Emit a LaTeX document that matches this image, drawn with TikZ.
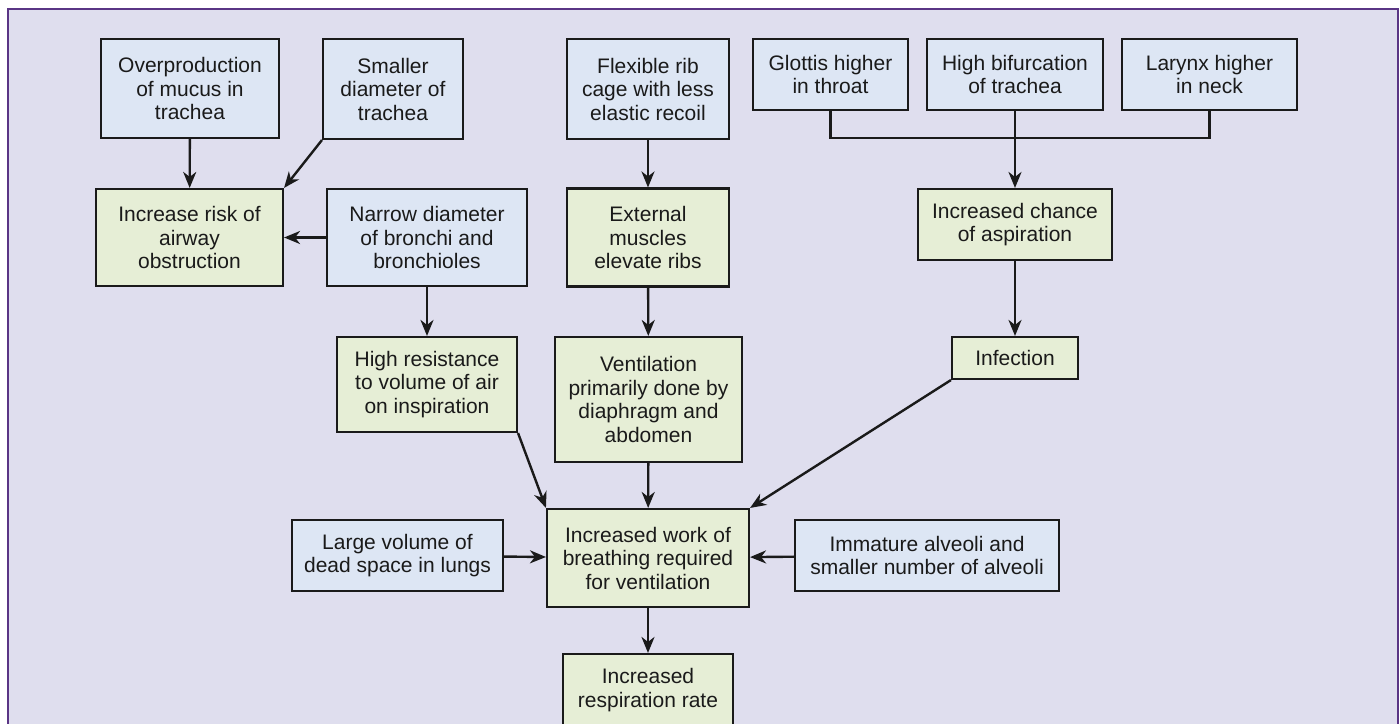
\documentclass[tikz,border=0pt]{standalone}
\usepackage{fontspec}
\setmainfont{Liberation Sans}
\usetikzlibrary{arrows.meta}
\definecolor{bgpanel}{HTML}{DFDEEE}
\definecolor{framepurple}{HTML}{5A3585}
\definecolor{causefill}{HTML}{DDE6F4}
\definecolor{effectfill}{HTML}{E6EED6}
\definecolor{ink}{HTML}{1A1A1A}
\begin{document}
\begin{tikzpicture}[x=1pt,y=-1pt,
  box/.style={draw=ink,line width=2.1pt,align=center,inner sep=0pt,
    font=\fontsize{21}{23.5}\selectfont,text=ink},
  cause/.style={box,fill=causefill},
  effect/.style={box,fill=effectfill},
  link/.style={draw=ink,line width=2.4pt,-{Stealth[length=16pt,width=13pt,inset=5pt]}},
  plain/.style={draw=ink,line width=2.4pt}]
\useasboundingbox (0,0) rectangle (1400,723);
\fill[white] (0,0) rectangle (1400,723);
\draw[framepurple,line width=2.8pt,fill=bgpanel] (8,9) rectangle (1398,780);

% top row: causes
\node[cause,minimum width=178pt,minimum height=99pt] (over) at (190,88.5)
  {Overproduction\\of mucus in\\trachea};
\node[cause,minimum width=140pt,minimum height=100pt] (smaller) at (393,89)
  {Smaller\\diameter of\\trachea};
\node[cause,minimum width=162pt,minimum height=100pt] (flex) at (648,89)
  {Flexible rib\\cage with less\\elastic recoil};
\node[cause,minimum width=155pt,minimum height=71pt] (glot) at (830.5,74.5)
  {Glottis higher\\in throat};
\node[cause,minimum width=176pt,minimum height=71pt] (bif) at (1015,74.5)
  {High bifurcation\\of trachea};
\node[cause,minimum width=175pt,minimum height=71pt] (lar) at (1209.5,74.5)
  {Larynx higher\\in neck};

% second row
\node[effect,minimum width=187pt,minimum height=97pt] (risk) at (189.5,237.5)
  {Increase risk of\\airway\\obstruction};
\node[cause,minimum width=200pt,minimum height=97pt] (narrow) at (427,237.5)
  {Narrow diameter\\of bronchi and\\bronchioles};
\node[effect,minimum width=162pt,minimum height=98pt] (ext) at (648,237.5)
  {External\\muscles\\elevate ribs};
\node[effect,minimum width=194pt,minimum height=71pt] (asp) at (1015,224.5)
  {Increased chance\\of aspiration};

% third row
\node[effect,minimum width=180pt,minimum height=95pt] (res) at (427,384.5)
  {High resistance\\to volume of air\\on inspiration};
\node[effect,minimum width=187pt,minimum height=125pt] (vent) at (648.5,399.5)
  {Ventilation\\primarily done by\\diaphragm and\\abdomen};
\node[effect,minimum width=126pt,minimum height=42pt] (inf) at (1015,358)
  {Infection};

% central outcome and its other causes
\node[effect,minimum width=202pt,minimum height=98pt] (work) at (648,558)
  {Increased work of\\breathing required\\for ventilation};
\node[cause,minimum width=211pt,minimum height=71pt] (dead) at (397.5,555.5)
  {Large volume of\\dead space in lungs};
\node[cause,minimum width=264pt,minimum height=71pt] (alv) at (927,555.5)
  {Immature alveoli and\\smaller number of alveoli};
\node[effect,minimum width=170pt,minimum height=72pt] (rate) at (648,690)
  {Increased\\respiration rate};

% connectors
\draw[link] (over) -- (risk);
\draw[link] (smaller.south west) -- (risk.north east);
\draw[link] (narrow) -- (risk);
\draw[link] (narrow) -- (res);
\draw[link] (flex) -- (ext);
\draw[link] (ext) -- (vent);

\coordinate (join) at (1015,138);
\draw[plain] (glot.south) |- (join) -| (lar.south);
\draw[link] (bif.south) -- (asp.north);
\draw[link] (asp) -- (inf);

\draw[link] (res.south east) -- (work.north west);
\draw[link] (vent) -- (work);
\draw[link] (inf.south west) -- (work.north east);
\draw[link] (dead) -- (work);
\draw[link] (alv) -- (work);
\draw[link] (work) -- (rate);
\end{tikzpicture}
\end{document}
